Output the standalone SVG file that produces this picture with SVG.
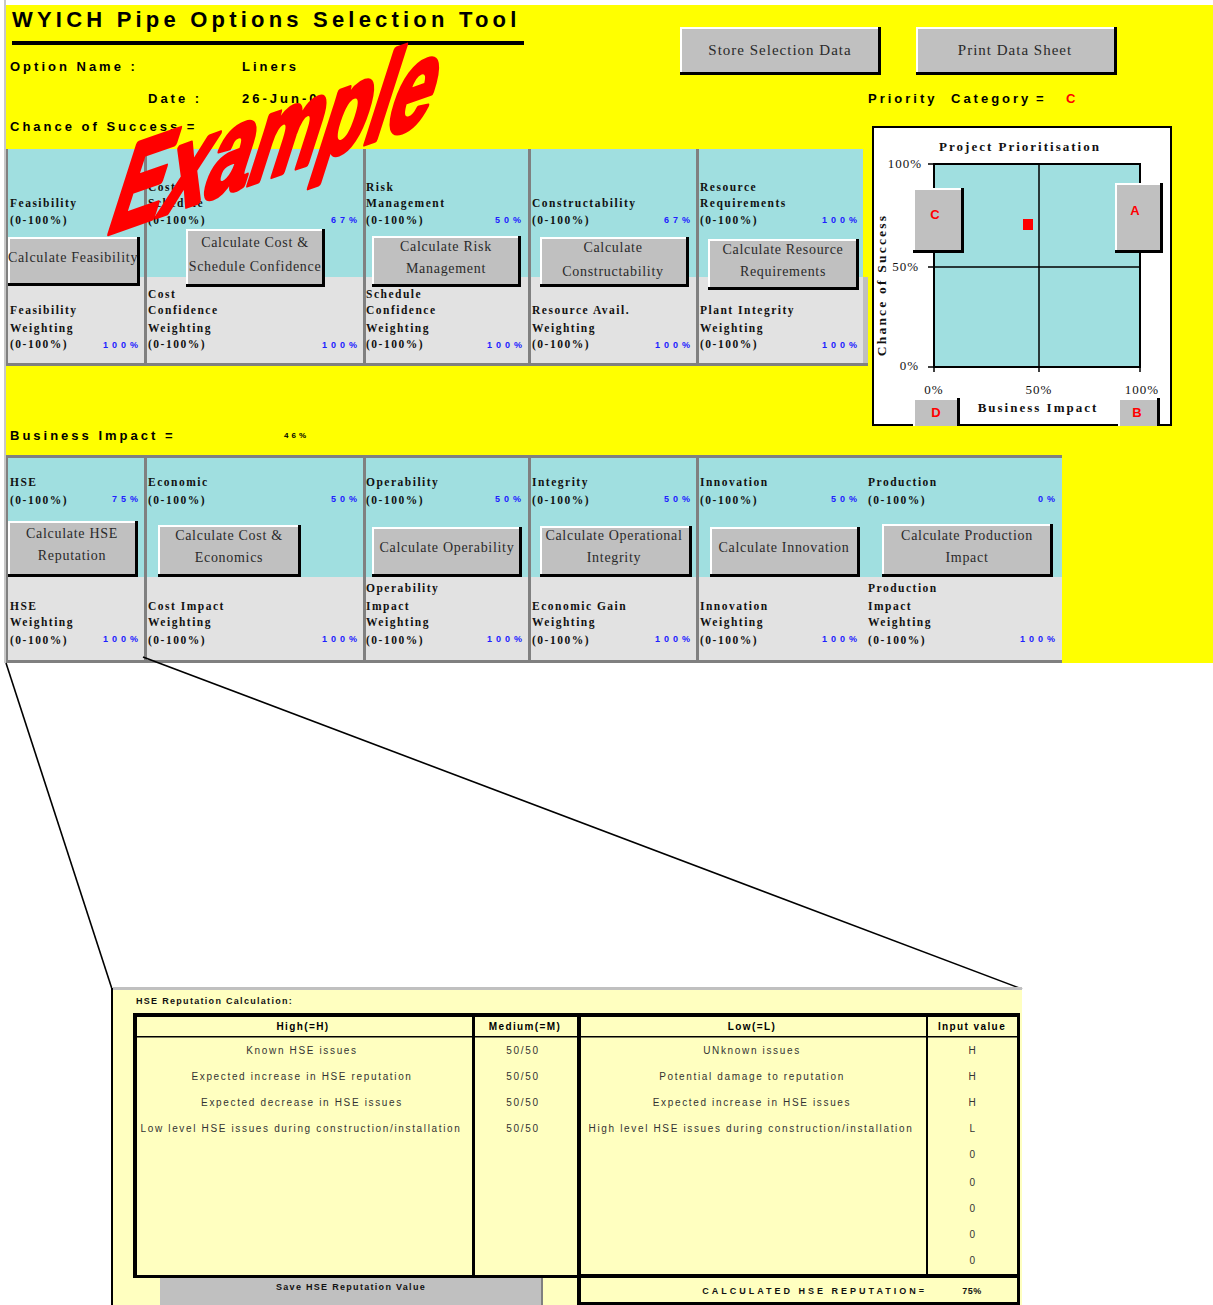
<svg xmlns="http://www.w3.org/2000/svg" width="1213" height="1305" viewBox="0 0 1213 1305">
<style>
.hdr{font-family:"Liberation Sans",Arial,sans-serif;font-weight:bold;font-size:13px;letter-spacing:3px;fill:#000}
.lbl{font-family:"Liberation Serif","Times New Roman",serif;font-weight:bold;font-size:11.5px;letter-spacing:1.5px;fill:#111}
.val{font-family:"Liberation Sans",Arial,sans-serif;font-weight:bold;font-size:9px;letter-spacing:4px;fill:#2020ff;text-anchor:end}
.bt{font-family:"Liberation Serif","Times New Roman",serif;font-size:14px;letter-spacing:0.7px;fill:#2a2a2a;text-anchor:middle}
.btn{fill:#c0c0c0}
.hl{stroke:#fff;stroke-width:2;fill:none}
.sh{stroke:#000;stroke-width:3;fill:none}
.cy{fill:#a0dfe0}
.lg{fill:#e2e2e2}
.sep{fill:#808080}
.ct{font-family:"Liberation Serif","Times New Roman",serif;font-size:13px;letter-spacing:1px;fill:#111}
.ctb{font-family:"Liberation Serif","Times New Roman",serif;font-weight:bold;font-size:13px;letter-spacing:2px;fill:#111;text-anchor:middle}
.rl{font-family:"Liberation Sans",Arial,sans-serif;font-weight:bold;font-size:13px;fill:#ff0000;text-anchor:middle}
.tb{font-family:"Liberation Sans",Arial,sans-serif;font-size:10px;letter-spacing:1.65px;fill:#333;text-anchor:middle}
.th{font-family:"Liberation Sans",Arial,sans-serif;font-weight:bold;font-size:10px;letter-spacing:1.4px;fill:#000;text-anchor:middle}
.conn{stroke:#000;stroke-width:1.6;fill:none}
</style>

<!-- background -->
<rect x="0" y="0" width="1213" height="1305" fill="#fff"/>
<rect x="6" y="5" width="1207" height="658" fill="#ffff00"/>
<rect x="4" y="0" width="2" height="663" fill="#c8c8c8"/>

<g id="header">
<text x="12" y="27" style="font-family:'Liberation Sans',Arial,sans-serif;font-weight:bold;font-size:22px;letter-spacing:4.2px">WYICH Pipe Options Selection Tool</text>
<rect x="12" y="41" width="512" height="4" fill="#000"/>
<text class="hdr" x="10" y="71">Option Name :</text>
<text class="hdr" x="242" y="71">Liners</text>
<text class="hdr" x="148" y="103">Date :</text>
<text class="hdr" x="242" y="103">26-Jun-0</text>
<text class="hdr" x="10" y="131">Chance of Success =</text>
</g>

<g id="btn-store">
<rect class="btn" x="680" y="27" width="201" height="48"/>
<path class="hl" d="M681,74V28H880"/>
<path class="sh" d="M879.5,27V73.5H680"/>
<text class="bt" x="780" y="55" style="font-size:15px;letter-spacing:1px">Store Selection Data</text>
</g>
<g id="btn-print">
<rect class="btn" x="916" y="27" width="201" height="48"/>
<path class="hl" d="M917,74V28H1116"/>
<path class="sh" d="M1115.5,27V73.5H916"/>
<text class="bt" x="1015" y="55" style="font-size:15px;letter-spacing:1px">Print Data Sheet</text>
</g>

<g id="priority">
<text class="hdr" x="868" y="103">Priority</text>
<text class="hdr" x="951" y="103">Category</text>
<text class="hdr" x="1036" y="103">=</text>
<text class="hdr" x="1066" y="103" style="fill:#ff0000">C</text>
</g>

<!-- Row 1 panel -->
<g id="row1-panel">
<rect class="cy" x="8" y="149" width="855" height="128"/>
<rect class="lg" x="8" y="277" width="855" height="87"/>
<rect x="863" y="277" width="5" height="89" fill="#c0c0c0"/>
<rect class="sep" x="6" y="149" width="2" height="217"/>
<rect class="sep" x="144" y="149" width="3" height="217"/>
<rect class="sep" x="363" y="149" width="3" height="217"/>
<rect class="sep" x="528" y="149" width="3" height="217"/>
<rect class="sep" x="696" y="149" width="3" height="217"/>
<rect class="sep" x="6" y="363" width="862" height="3"/>
</g>

<g id="r1-feasibility">
<text class="lbl" x="10" y="207">Feasibility</text>
<text class="lbl" x="10" y="224">(0-100%)</text>
<rect class="btn" x="8" y="237" width="132" height="49"/>
<path class="hl" d="M9,285V238H139"/>
<path class="sh" d="M138.5,237V284.5H8"/>
<text class="bt" x="73" y="262">Calculate Feasibility</text>
<text class="lbl" x="10" y="314">Feasibility</text>
<text class="lbl" x="10" y="332">Weighting</text>
<text class="lbl" x="10" y="348">(0-100%)</text>
<text class="val" x="142" y="348">100%</text>
</g>

<g id="r1-cost-schedule">
<text class="lbl" x="148" y="191">Cost</text>
<text class="lbl" x="148" y="207">Schedule</text>
<text class="lbl" x="148" y="224">(0-100%)</text>
<text class="val" x="361" y="223">67%</text>
<rect class="btn" x="186" y="229" width="139" height="58"/>
<path class="hl" d="M187,286V230H324"/>
<path class="sh" d="M323.5,229V285.5H186"/>
<text class="bt" x="255" y="247">Calculate Cost &amp;</text>
<text class="bt" x="255" y="271">Schedule Confidence</text>
<text class="lbl" x="148" y="298">Cost</text>
<text class="lbl" x="148" y="314">Confidence</text>
<text class="lbl" x="148" y="332">Weighting</text>
<text class="lbl" x="148" y="348">(0-100%)</text>
<text class="val" x="361" y="348">100%</text>
</g>

<g id="r1-risk">
<text class="lbl" x="366" y="191">Risk</text>
<text class="lbl" x="366" y="207">Management</text>
<text class="lbl" x="366" y="224">(0-100%)</text>
<text class="val" x="525" y="223">50%</text>
<rect class="btn" x="372" y="236" width="149" height="51"/>
<path class="hl" d="M373,286V237H520"/>
<path class="sh" d="M519.5,236V285.5H372"/>
<text class="bt" x="446" y="251">Calculate Risk</text>
<text class="bt" x="446" y="273">Management</text>
<text class="lbl" x="366" y="298">Schedule</text>
<text class="lbl" x="366" y="314">Confidence</text>
<text class="lbl" x="366" y="332">Weighting</text>
<text class="lbl" x="366" y="348">(0-100%)</text>
<text class="val" x="526" y="348">100%</text>
</g>

<g id="r1-constructability">
<text class="lbl" x="532" y="207">Constructability</text>
<text class="lbl" x="532" y="224">(0-100%)</text>
<text class="val" x="694" y="223">67%</text>
<rect class="btn" x="540" y="237" width="149" height="50"/>
<path class="hl" d="M541,286V238H688"/>
<path class="sh" d="M687.5,237V285.5H540"/>
<text class="bt" x="613" y="252">Calculate</text>
<text class="bt" x="613" y="276">Constructability</text>
<text class="lbl" x="532" y="314">Resource Avail.</text>
<text class="lbl" x="532" y="332">Weighting</text>
<text class="lbl" x="532" y="348">(0-100%)</text>
<text class="val" x="694" y="348">100%</text>
</g>

<g id="r1-resource">
<text class="lbl" x="700" y="191">Resource</text>
<text class="lbl" x="700" y="207">Requirements</text>
<text class="lbl" x="700" y="224">(0-100%)</text>
<text class="val" x="861" y="223">100%</text>
<rect class="btn" x="708" y="239" width="151" height="51"/>
<path class="hl" d="M709,289V240H858"/>
<path class="sh" d="M857.5,239V288.5H708"/>
<text class="bt" x="783" y="254">Calculate Resource</text>
<text class="bt" x="783" y="276">Requirements</text>
<text class="lbl" x="700" y="314">Plant Integrity</text>
<text class="lbl" x="700" y="332">Weighting</text>
<text class="lbl" x="700" y="348">(0-100%)</text>
<text class="val" x="861" y="348">100%</text>
</g>

<!-- Chart -->
<g id="chart">
<rect x="873" y="127" width="298" height="298" fill="#fff" stroke="#000" stroke-width="2"/>
<text class="ctb" x="1020" y="151">Project Prioritisation</text>
<rect x="934" y="164" width="206" height="203" fill="#a0dfe0" stroke="#000" stroke-width="2"/>
<line x1="1039" y1="164" x2="1039" y2="367" stroke="#000" stroke-width="1.5"/>
<line x1="934" y1="267" x2="1140" y2="267" stroke="#000" stroke-width="1.5"/>
<path d="M928,164H934M928,267H934M928,367H934M934,367V372M1039,367V372M1140,367V372" stroke="#000" stroke-width="1.5"/>
<text class="ct" x="922" y="168" text-anchor="end">100%</text>
<text class="ct" x="919" y="271" text-anchor="end">50%</text>
<text class="ct" x="919" y="370" text-anchor="end">0%</text>
<text class="ct" x="934" y="394" text-anchor="middle">0%</text>
<text class="ct" x="1039" y="394" text-anchor="middle">50%</text>
<text class="ct" x="1142" y="394" text-anchor="middle">100%</text>
<text class="ctb" x="1038" y="412">Business Impact</text>
<text class="ctb" x="886" y="285" transform="rotate(-90 886 285)" style="font-size:13.5px;letter-spacing:2.2px">Chance of Success</text>
<rect x="1023" y="219" width="10" height="11" fill="#ff0000"/>
</g>
<g id="chart-btn-c">
<rect class="btn" x="913" y="188" width="51" height="65"/>
<path class="hl" d="M914,252V189H963"/>
<path class="sh" d="M962.5,188V251.5H913"/>
<text class="rl" x="935" y="219">C</text>
</g>
<g id="chart-btn-a">
<rect class="btn" x="1115" y="183" width="48" height="70"/>
<path class="hl" d="M1116,252V184H1162"/>
<path class="sh" d="M1161.5,183V251.5H1115"/>
<text class="rl" x="1135" y="215">A</text>
</g>
<g id="chart-btn-d">
<rect class="btn" x="913" y="398" width="47" height="28"/>
<path class="hl" d="M914,426V399H959"/>
<path class="sh" d="M958.5,398V426"/>
<text class="rl" x="936" y="417">D</text>
</g>
<g id="chart-btn-b">
<rect class="btn" x="1118" y="398" width="42" height="28"/>
<path class="hl" d="M1119,426V399H1159"/>
<path class="sh" d="M1158.5,398V426"/>
<text class="rl" x="1137" y="417">B</text>
</g>

<g id="business-impact">
<text class="hdr" x="10" y="440">Business Impact =</text>
<text x="284" y="438" style="font-family:'Liberation Sans',Arial,sans-serif;font-weight:bold;font-size:8px;letter-spacing:3px">46%</text>
</g>

<!-- Row 2 panel -->
<g id="row2-panel">
<rect class="cy" x="8" y="458" width="1054" height="119"/>
<rect class="lg" x="8" y="577" width="1054" height="83"/>
<rect class="sep" x="6" y="455" width="1056" height="3"/>
<rect class="sep" x="6" y="455" width="2" height="208"/>
<rect class="sep" x="144" y="455" width="3" height="208"/>
<rect class="sep" x="363" y="455" width="3" height="208"/>
<rect class="sep" x="528" y="455" width="3" height="208"/>
<rect class="sep" x="696" y="455" width="3" height="208"/>
<rect class="sep" x="6" y="660" width="1056" height="3"/>
</g>

<g id="r2-hse">
<text class="lbl" x="10" y="486">HSE</text>
<text class="lbl" x="10" y="504">(0-100%)</text>
<text class="val" x="142" y="502">75%</text>
<rect class="btn" x="8" y="521" width="130" height="56"/>
<path class="hl" d="M9,576V522H137"/>
<path class="sh" d="M136.5,521V575.5H8"/>
<text class="bt" x="72" y="538">Calculate HSE</text>
<text class="bt" x="72" y="560">Reputation</text>
<text class="lbl" x="10" y="610">HSE</text>
<text class="lbl" x="10" y="626">Weighting</text>
<text class="lbl" x="10" y="644">(0-100%)</text>
<text class="val" x="142" y="642">100%</text>
</g>

<g id="r2-economic">
<text class="lbl" x="148" y="486">Economic</text>
<text class="lbl" x="148" y="504">(0-100%)</text>
<text class="val" x="361" y="502">50%</text>
<rect class="btn" x="158" y="525" width="143" height="52"/>
<path class="hl" d="M159,576V526H300"/>
<path class="sh" d="M299.5,525V575.5H158"/>
<text class="bt" x="229" y="540">Calculate Cost &amp;</text>
<text class="bt" x="229" y="562">Economics</text>
<text class="lbl" x="148" y="610">Cost Impact</text>
<text class="lbl" x="148" y="626">Weighting</text>
<text class="lbl" x="148" y="644">(0-100%)</text>
<text class="val" x="361" y="642">100%</text>
</g>

<g id="r2-operability">
<text class="lbl" x="366" y="486">Operability</text>
<text class="lbl" x="366" y="504">(0-100%)</text>
<text class="val" x="525" y="502">50%</text>
<rect class="btn" x="372" y="527" width="150" height="50"/>
<path class="hl" d="M373,576V528H521"/>
<path class="sh" d="M520.5,527V575.5H372"/>
<text class="bt" x="447" y="552">Calculate Operability</text>
<text class="lbl" x="366" y="592">Operability</text>
<text class="lbl" x="366" y="610">Impact</text>
<text class="lbl" x="366" y="626">Weighting</text>
<text class="lbl" x="366" y="644">(0-100%)</text>
<text class="val" x="526" y="642">100%</text>
</g>

<g id="r2-integrity">
<text class="lbl" x="532" y="486">Integrity</text>
<text class="lbl" x="532" y="504">(0-100%)</text>
<text class="val" x="694" y="502">50%</text>
<rect class="btn" x="540" y="526" width="152" height="51"/>
<path class="hl" d="M541,576V527H691"/>
<path class="sh" d="M690.5,526V575.5H540"/>
<text class="bt" x="614" y="540">Calculate Operational</text>
<text class="bt" x="614" y="562">Integrity</text>
<text class="lbl" x="532" y="610">Economic Gain</text>
<text class="lbl" x="532" y="626">Weighting</text>
<text class="lbl" x="532" y="644">(0-100%)</text>
<text class="val" x="694" y="642">100%</text>
</g>

<g id="r2-innovation">
<text class="lbl" x="700" y="486">Innovation</text>
<text class="lbl" x="700" y="504">(0-100%)</text>
<text class="val" x="861" y="502">50%</text>
<rect class="btn" x="710" y="527" width="150" height="50"/>
<path class="hl" d="M711,576V528H859"/>
<path class="sh" d="M858.5,527V575.5H710"/>
<text class="bt" x="784" y="552">Calculate Innovation</text>
<text class="lbl" x="700" y="610">Innovation</text>
<text class="lbl" x="700" y="626">Weighting</text>
<text class="lbl" x="700" y="644">(0-100%)</text>
<text class="val" x="861" y="642">100%</text>
</g>

<g id="r2-production">
<text class="lbl" x="868" y="486">Production</text>
<text class="lbl" x="868" y="504">(0-100%)</text>
<text class="val" x="1059" y="502">0%</text>
<rect class="btn" x="882" y="524" width="171" height="53"/>
<path class="hl" d="M883,576V525H1052"/>
<path class="sh" d="M1051.5,524V575.5H882"/>
<text class="bt" x="967" y="540">Calculate Production</text>
<text class="bt" x="967" y="562">Impact</text>
<text class="lbl" x="868" y="592">Production</text>
<text class="lbl" x="868" y="610">Impact</text>
<text class="lbl" x="868" y="626">Weighting</text>
<text class="lbl" x="868" y="644">(0-100%)</text>
<text class="val" x="1059" y="642">100%</text>
</g>

<!-- Example watermark -->
<g id="watermark">
<text transform="matrix(0.6,-0.21,-0.32,1,104,235)" style="font-family:'Liberation Sans',Arial,sans-serif;font-weight:bold;font-size:130px;fill:#ff0000;stroke:#ff0000;stroke-width:6;stroke-linejoin:round">Example</text>
</g>

<!-- connectors -->
<g id="connectors">
<line class="conn" x1="6" y1="663" x2="112" y2="989"/>
<line class="conn" x1="143" y1="657" x2="1022" y2="989"/>
</g>

<!-- HSE Reputation calculation panel -->
<g id="hse-panel">
<rect x="112" y="988" width="910" height="317" fill="#ffffc0"/>
<rect x="112" y="987" width="910" height="3" fill="#c0c0c0"/>
<rect x="111" y="988" width="2" height="317" fill="#000"/>
<text x="136" y="1004" style="font-family:'Liberation Sans',Arial,sans-serif;font-weight:bold;font-size:9px;letter-spacing:1.3px;fill:#111">HSE Reputation Calculation:</text>
</g>

<g id="hse-table">
<rect x="133" y="1013" width="887" height="4" fill="#000"/>
<rect x="133" y="1013" width="4" height="265" fill="#000"/>
<rect x="472" y="1013" width="3" height="265" fill="#000"/>
<rect x="577" y="1013" width="4" height="292" fill="#000"/>
<rect x="926" y="1013" width="2" height="262" fill="#000"/>
<rect x="1017" y="1013" width="3" height="292" fill="#000"/>
<rect x="133" y="1036" width="887" height="1.5" fill="#000"/>
<rect x="133" y="1275" width="448" height="3" fill="#000"/>
<rect x="577" y="1274" width="443" height="4" fill="#000"/>
<rect x="577" y="1302" width="443" height="3" fill="#000"/>
<text class="th" x="303" y="1030">High(=H)</text>
<text class="th" x="525" y="1030">Medium(=M)</text>
<text class="th" x="752" y="1030">Low(=L)</text>
<text class="th" x="972" y="1030">Input value</text>

<text class="tb" x="302" y="1054">Known HSE issues</text>
<text class="tb" x="302" y="1080">Expected increase in HSE reputation</text>
<text class="tb" x="302" y="1106">Expected decrease in HSE issues</text>
<text class="tb" x="301" y="1132">Low level HSE issues during construction/installation</text>

<text class="tb" x="523" y="1054">50/50</text>
<text class="tb" x="523" y="1080">50/50</text>
<text class="tb" x="523" y="1106">50/50</text>
<text class="tb" x="523" y="1132">50/50</text>

<text class="tb" x="752" y="1054">UNknown issues</text>
<text class="tb" x="752" y="1080">Potential damage to reputation</text>
<text class="tb" x="752" y="1106">Expected increase in HSE issues</text>
<text class="tb" x="751" y="1132">High level HSE issues during construction/installation</text>

<text class="tb" x="973" y="1054">H</text>
<text class="tb" x="973" y="1080">H</text>
<text class="tb" x="973" y="1106">H</text>
<text class="tb" x="973" y="1132">L</text>
<text class="tb" x="973" y="1158">0</text>
<text class="tb" x="973" y="1186">0</text>
<text class="tb" x="973" y="1212">0</text>
<text class="tb" x="973" y="1238">0</text>
<text class="tb" x="973" y="1264">0</text>

<text x="927" y="1294" text-anchor="end" style="font-family:'Liberation Sans',Arial,sans-serif;font-weight:bold;font-size:9px;letter-spacing:3px;fill:#111">CALCULATED HSE REPUTATION=</text>
<text x="972" y="1294" text-anchor="middle" style="font-family:'Liberation Sans',Arial,sans-serif;font-weight:bold;font-size:9px;letter-spacing:0.5px;fill:#111">75%</text>
</g>

<g id="btn-save">
<rect x="160" y="1278" width="382" height="27" fill="#c0c0c0"/>
<rect x="541" y="1278" width="2" height="27" fill="#808080"/>
<text x="351" y="1290" text-anchor="middle" style="font-family:'Liberation Sans',Arial,sans-serif;font-weight:bold;font-size:9px;letter-spacing:1.3px;fill:#111">Save HSE Reputation Value</text>
</g>
</svg>
